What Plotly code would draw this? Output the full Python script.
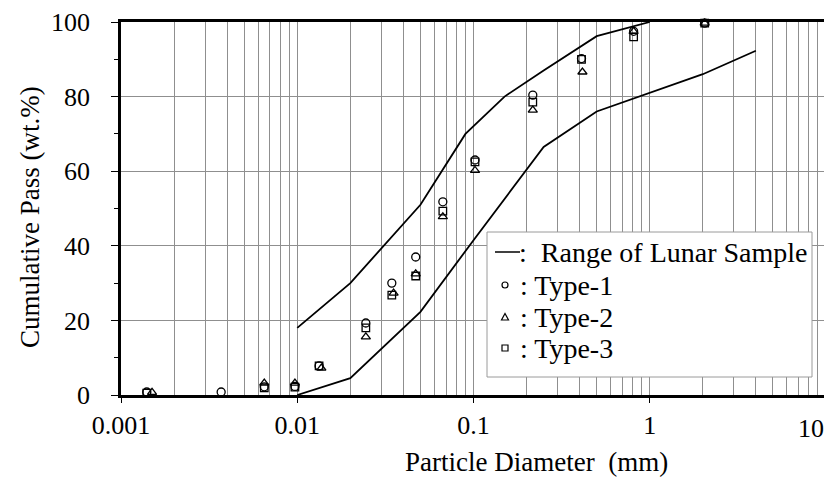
import plotly.graph_objects as go

# ---- data ----
lunar_upper_d = [0.01, 0.02, 0.05, 0.09, 0.15, 0.25, 0.5, 1.0]
lunar_upper = [18, 30, 51, 70, 80, 87, 96.2, 100]
lunar_lower_d = [0.01, 0.02, 0.05, 0.1, 0.25, 0.5, 2.0, 4.0]
lunar_lower = [0, 4.5, 22.3, 41.5, 66.5, 76, 86, 92.3]

diam = [0.0014, 0.0037, 0.0065, 0.0097, 0.0133, 0.0245, 0.0344, 0.047, 0.067, 0.102, 0.217, 0.41, 0.81, 2.05]
diam2 = [0.0015, 0.0037, 0.0065, 0.0097, 0.0137, 0.0245, 0.0352, 0.047, 0.067, 0.102, 0.217, 0.415, 0.81, 2.05]
type1 = [0.8, 0.8, 2.2, 2.3, 7.8, 19.3, 30.0, 37.0, 51.8, 63.0, 80.4, 90.2, 97.5, 99.7]
type2 = [0.7, None, 3.2, 3.2, 7.2, 15.6, 27.3, 32.5, 47.8, 60.2, 76.4, 86.6, 97.5, 99.7]
type3 = [0.5, None, 1.9, 2.1, 7.8, 18.0, 26.8, 31.9, 49.3, 62.5, 78.5, 90.0, 96.0, 99.7]

x_ticks = [0.001, 0.01, 0.1, 1, 10]
x_tick_labels = ["0.001", "0.01", "0.1", "1", "10"]
y_ticks = [0, 20, 40, 60, 80, 100]

legend_labels = [":\u00a0\u00a0Range of Lunar Sample", ": Type-1", ": Type-2", ": Type-3"]

FONT = "Liberation Serif"

# The page body has an 8px margin; size the figure so it fits the 832x479 window.
PAGE_OFF = 8
W, H = 832 - PAGE_OFF, 479 - PAGE_OFF
# plot area in window pixels
L, R, T, B = 121, 826, 22, 395
def px(x):
    return (x - L) / (R - L)
def py(y):
    return (B - y) / (B - T)

fig = go.Figure()

line_style = dict(color="black", width=1.8)
fig.add_trace(go.Scatter(x=lunar_upper_d, y=lunar_upper, mode="lines", line=line_style,
                         showlegend=False, cliponaxis=False))
fig.add_trace(go.Scatter(x=lunar_lower_d, y=lunar_lower, mode="lines", line=line_style,
                         showlegend=False, cliponaxis=False))

mk_line = dict(color="black", width=1.3)
fig.add_trace(go.Scatter(x=diam, y=type1, mode="markers", showlegend=False, cliponaxis=False,
                         marker=dict(symbol="circle-open", size=8, color="black", line=mk_line)))
fig.add_trace(go.Scatter(x=diam2, y=type2, mode="markers", showlegend=False, cliponaxis=False,
                         marker=dict(symbol="triangle-up-open", size=8, color="black", line=mk_line)))
fig.add_trace(go.Scatter(x=diam, y=type3, mode="markers", showlegend=False, cliponaxis=False,
                         marker=dict(symbol="square-open", size=7.5, color="black", line=mk_line)))

grid_col = "#8f8f8f"
# the last tick label ("10") is drawn as an annotation, nudged left to stay inside the window
x_tick_text_axis = x_tick_labels[:-1] + [""]
fig.update_xaxes(
    type="log", range=[-3, 1.00001], automargin=False,
    tickvals=x_ticks, ticktext=x_tick_text_axis,
    ticks="outside", ticklen=5, tickcolor="black",
    showgrid=True, gridcolor=grid_col, gridwidth=1,
    minor=dict(dtick="D1", showgrid=True, gridcolor=grid_col, gridwidth=1, ticks=""),
    showline=True, linecolor="black", linewidth=2.5, mirror=True,
    tickfont=dict(family=FONT, size=26, color="black"),
    zeroline=False,
)
fig.update_yaxes(
    range=[0, 100], tickvals=y_ticks, automargin=False,
    ticks="outside", ticklen=7, tickcolor="black",
    minor=dict(dtick=10, ticks="outside", ticklen=4, tickcolor="black", showgrid=False),
    showgrid=True, gridcolor=grid_col, gridwidth=1,
    showline=True, linecolor="black", linewidth=2.5, mirror=True,
    tickfont=dict(family=FONT, size=26, color="black"),
    ticklabelstandoff=16,
    zeroline=False,
)

shapes = []
annotations = []
# legend box
shapes.append(dict(type="rect", xref="paper", yref="paper",
                   x0=px(487), x1=px(812), y0=py(377), y1=py(232),
                   line=dict(color="#9a9a9a", width=1), fillcolor="white", layer="above"))
rows_y = [252, 285, 317, 348]
# line symbol
shapes.append(dict(type="line", xref="paper", yref="paper",
                   x0=px(495), x1=px(520), y0=py(rows_y[0]), y1=py(rows_y[0]),
                   line=dict(color="black", width=1.5), layer="above"))
# circle symbol
shapes.append(dict(type="circle", xref="paper", yref="paper", xsizemode="pixel", ysizemode="pixel",
                   xanchor=px(505), yanchor=py(rows_y[1]), x0=-3, x1=3, y0=-3, y1=3,
                   line=dict(color="black", width=1.2), layer="above"))
# triangle symbol
shapes.append(dict(type="path", xref="paper", yref="paper", xsizemode="pixel", ysizemode="pixel",
                   xanchor=px(505), yanchor=py(rows_y[2]), path="M -3.5 -3 L 3.5 -3 L 0 3.5 Z",
                   line=dict(color="black", width=1.2), layer="above"))
# square symbol
shapes.append(dict(type="rect", xref="paper", yref="paper", xsizemode="pixel", ysizemode="pixel",
                   xanchor=px(505), yanchor=py(rows_y[3]), x0=-3, x1=3, y0=-3, y1=3,
                   line=dict(color="black", width=1.2), layer="above"))

text_x = [517, 518, 518, 518]
for lbl, yy, xx in zip(legend_labels, rows_y, text_x):
    annotations.append(dict(text=lbl, xref="paper", yref="paper", x=px(xx), y=py(yy),
                            xanchor="left", yanchor="middle", showarrow=False,
                            font=dict(family=FONT, size=28, color="black")))

# last x tick label
annotations.append(dict(text=x_tick_labels[-1], xref="paper", yref="paper",
                        x=px(826), y=py(428), xanchor="right", yanchor="middle", showarrow=False,
                        font=dict(family=FONT, size=26, color="black")))

# axis titles
annotations.append(dict(text="Particle Diameter\u00a0\u00a0(mm)", xref="paper", yref="paper",
                        x=px(536), y=py(462), xanchor="center", yanchor="middle", showarrow=False,
                        font=dict(family=FONT, size=27, color="black")))
annotations.append(dict(text="Cumulative Pass (wt.%)", xref="paper", yref="paper",
                        x=px(30), y=py(217), xanchor="center", yanchor="middle", showarrow=False,
                        textangle=-90, font=dict(family=FONT, size=27, color="black")))

fig.update_layout(
    width=W, height=H,
    margin=dict(l=L - PAGE_OFF, r=832 - R, t=T - PAGE_OFF, b=479 - B),
    plot_bgcolor="white", paper_bgcolor="white",
    shapes=shapes, annotations=annotations,
    showlegend=False,
    font=dict(family=FONT, color="black"),
)

fig.write_html("out.html")
